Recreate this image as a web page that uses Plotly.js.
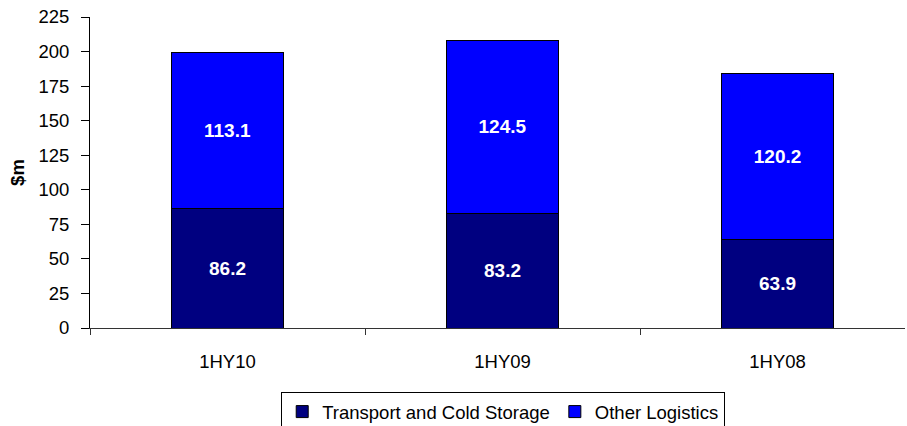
<!DOCTYPE html>
<html>
<head>
<meta charset="utf-8">
<script src="https://cdn.plot.ly/plotly-3.0.1.min.js"></script>
<style>
  html, body { margin: 0; padding: 0; background: #fff; }
  #chart { width: 907px; height: 426px; }
</style>
</head>
<body>
<div id="chart"></div>
<script>
// Half-year periods and revenue by segment ($m)
const categories = ['1HY10', '1HY09', '1HY08'];
const transportCold = [86.2, 83.2, 63.9];
const otherLogistics = [113.1, 124.5, 120.2];
const seriesNames = ['Transport and Cold Storage', 'Other Logistics'];
const yTitle = '$m';

const FONT = 'Liberation Sans, Arial, Helvetica, sans-serif';
const TEXT_SIZE = 18.5;

function barTrace(name, values, color) {
  return {
    type: 'bar',
    name: name,
    x: categories,
    y: values,
    text: values.map(v => v.toFixed(1)),
    textposition: 'inside',
    insidetextanchor: 'middle',
    textangle: 0,
    constraintext: 'none',
    textfont: { family: FONT, size: 19, color: '#ffffff', weight: 'bold' },
    marker: { color: color, line: { color: '#000000', width: 1 } },
    hoverinfo: 'skip'
  };
}

const data = [
  barTrace(seriesNames[0], transportCold, '#000080'),
  barTrace(seriesNames[1], otherLogistics, '#0000ff')
];

const layout = {
  width: 907,
  height: 426,
  barmode: 'stack',
  bargap: 0.596,
  // fixed plot box; the legend is allowed to run off the bottom edge
  margin: { l: 90, r: 2, t: 17, b: 98, autoexpand: false },
  paper_bgcolor: '#ffffff',
  plot_bgcolor: '#ffffff',
  font: { family: FONT, size: TEXT_SIZE, color: '#000000' },
  showlegend: true,
  legend: {
    orientation: 'h',
    x: 0.507,
    xanchor: 'center',
    y: -0.206,
    yanchor: 'top',
    bordercolor: '#000000',
    borderwidth: 1,
    font: { family: FONT, size: TEXT_SIZE, color: '#000000' },
    traceorder: 'normal'
  },
  xaxis: {
    type: 'category',
    range: [-0.5, 2.4636],
    showgrid: false,
    zeroline: false,
    showline: true,
    linecolor: '#333333',
    linewidth: 1,
    ticks: 'outside',
    tickson: 'boundaries',
    ticklen: 6,
    tickcolor: '#333333',
    ticklabelstandoff: 17,
    tickfont: { family: FONT, size: TEXT_SIZE, color: '#000000' }
  },
  yaxis: {
    range: [0, 225],
    dtick: 25,
    tick0: 0,
    showgrid: false,
    zeroline: false,
    showline: true,
    linecolor: '#000000',
    linewidth: 1,
    ticks: 'outside',
    ticklen: 8,
    tickcolor: '#000000',
    ticklabelstandoff: 8,
    tickfont: { family: FONT, size: TEXT_SIZE, color: '#000000' },
    title: {
      text: yTitle,
      font: { family: FONT, size: TEXT_SIZE, color: '#000000', weight: 'bold' },
      standoff: 8
    }
  }
};

Plotly.newPlot('chart', data, layout, { staticPlot: true, displayModeBar: false });
</script>
</body>
</html>
